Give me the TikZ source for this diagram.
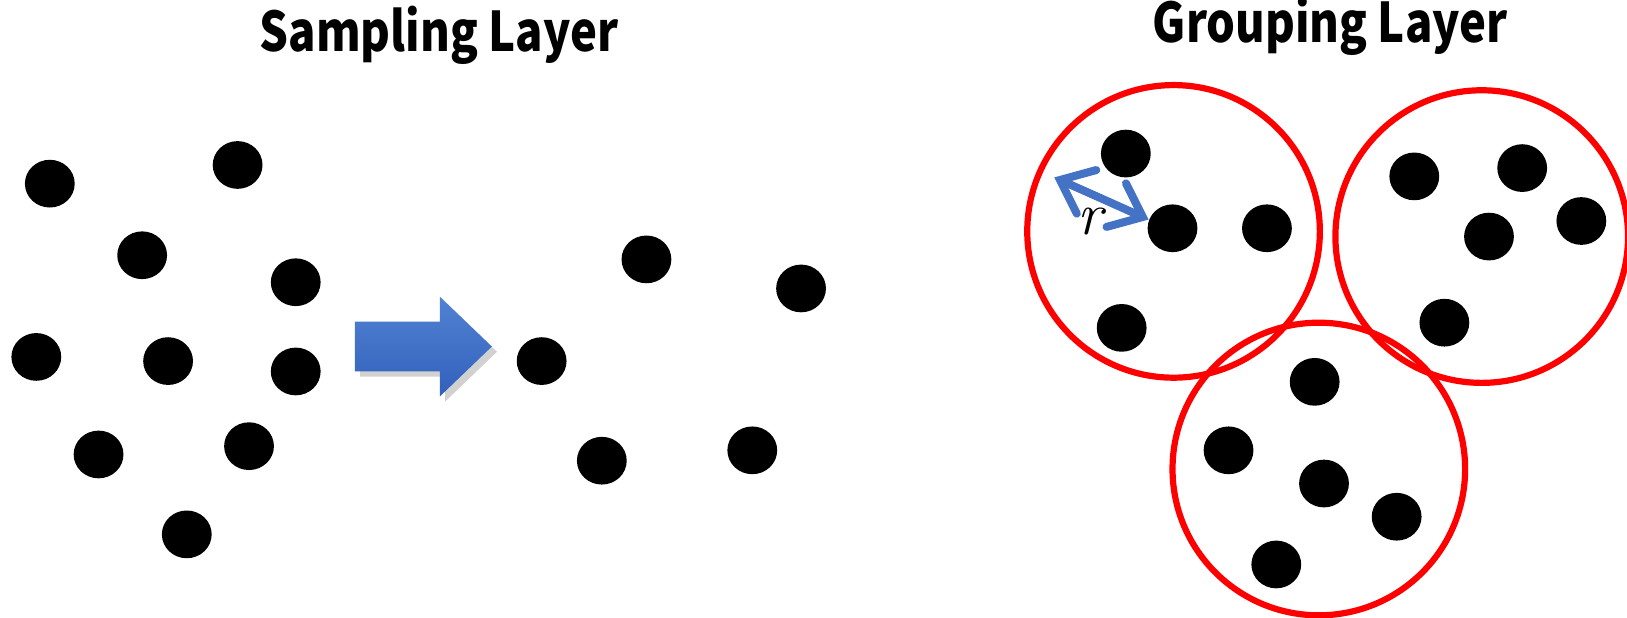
\documentclass[tikz,border=0pt]{standalone}
\usepackage{fontspec}
\usepackage{xcolor}
\usepackage{tikz}
\usetikzlibrary{arrows.meta,shapes.geometric}
\newfontfamily\ttlfont{Noto Sans CJK JP}[FakeStretch=0.83]
\definecolor{ringred}{HTML}{FF0000}
\definecolor{rblue}{HTML}{4472C4}
\definecolor{arrtop}{HTML}{5282D2}
\definecolor{arrbot}{HTML}{3160BC}
\newcommand{\Ttl}{\fontsize{15}{18}\selectfont}
\newcommand{\Rlbl}{\fontsize{16.5}{19}\selectfont\itshape}

\begin{document}
\begin{tikzpicture}[x=0.1mm,y=-0.1mm,
    dot/.style={ellipse, fill=black, inner sep=0pt, minimum width=4.8mm, minimum height=4.6mm},
    grp/.style={circle, draw=ringred, line width=1.7pt, inner sep=0pt, minimum size=28.2mm},
    rarr/.style={rblue, line width=2.2pt, line cap=round, {Straight Barb[length=2.8mm,width=4.6mm,line cap=round]}-{Straight Barb[length=2.8mm,width=4.6mm,line cap=round]}}]
  \useasboundingbox (0,0) rectangle (1568,595);
  \node[font=\Ttl\ttlfont\bfseries, anchor=base] (ttls) at (423,50) {Sampling Layer};
  \node[font=\Ttl\ttlfont\bfseries, anchor=base] (ttlg) at (1282,41) {Grouping Layer};
  \foreach \i/\px/\py in {1/48/177, 2/229/159, 3/137/246, 4/285/272, 5/35/344,
                          6/162/348, 7/285/358, 8/95/438, 9/240/430, 10/180/515}{
    \node[dot] (s\i) at (\px,\py) {};
  }
  \fill[black, opacity=0.18] (347,315) -- (429,315) -- (429,291) -- (479,339) -- (429,387) -- (429,363) -- (347,363) -- cycle;
  \shade[top color=arrtop, bottom color=arrbot] (342,310) -- (424,310) -- (424,286) -- (474,334)
    -- (424,382) -- (424,358) -- (342,358) -- cycle;
  \foreach \i/\px/\py in {1/522/348, 2/623/250, 3/772/278, 4/580/444, 5/725/434}{
    \node[dot] (m\i) at (\px,\py) {};
  }
  \foreach \i/\px/\py in {1/1131/223, 2/1428/228, 3/1271/452}{
    \node[grp] (g\i) at (\px,\py) {};
  }
  \foreach \nm/\px/\py in {a/1085/148, b/1130/220, c/1221/220, d/1081/316,
                           e/1363/170, f/1467/162, g/1435/228, h/1524/213, i/1392/311,
                           j/1267/368, k/1184/434, l/1276/466, m/1346/498, n/1230/544}{
    \node[dot] (p\nm) at (\px,\py) {};
  }
  \coordinate (redge) at (1016,171);
  \draw[rarr] (redge) -- (pb.160);
  \node[font=\Rlbl, inner sep=0pt, anchor=base] (rlbl) at (1050,226) {r};
\end{tikzpicture}
\end{document}
